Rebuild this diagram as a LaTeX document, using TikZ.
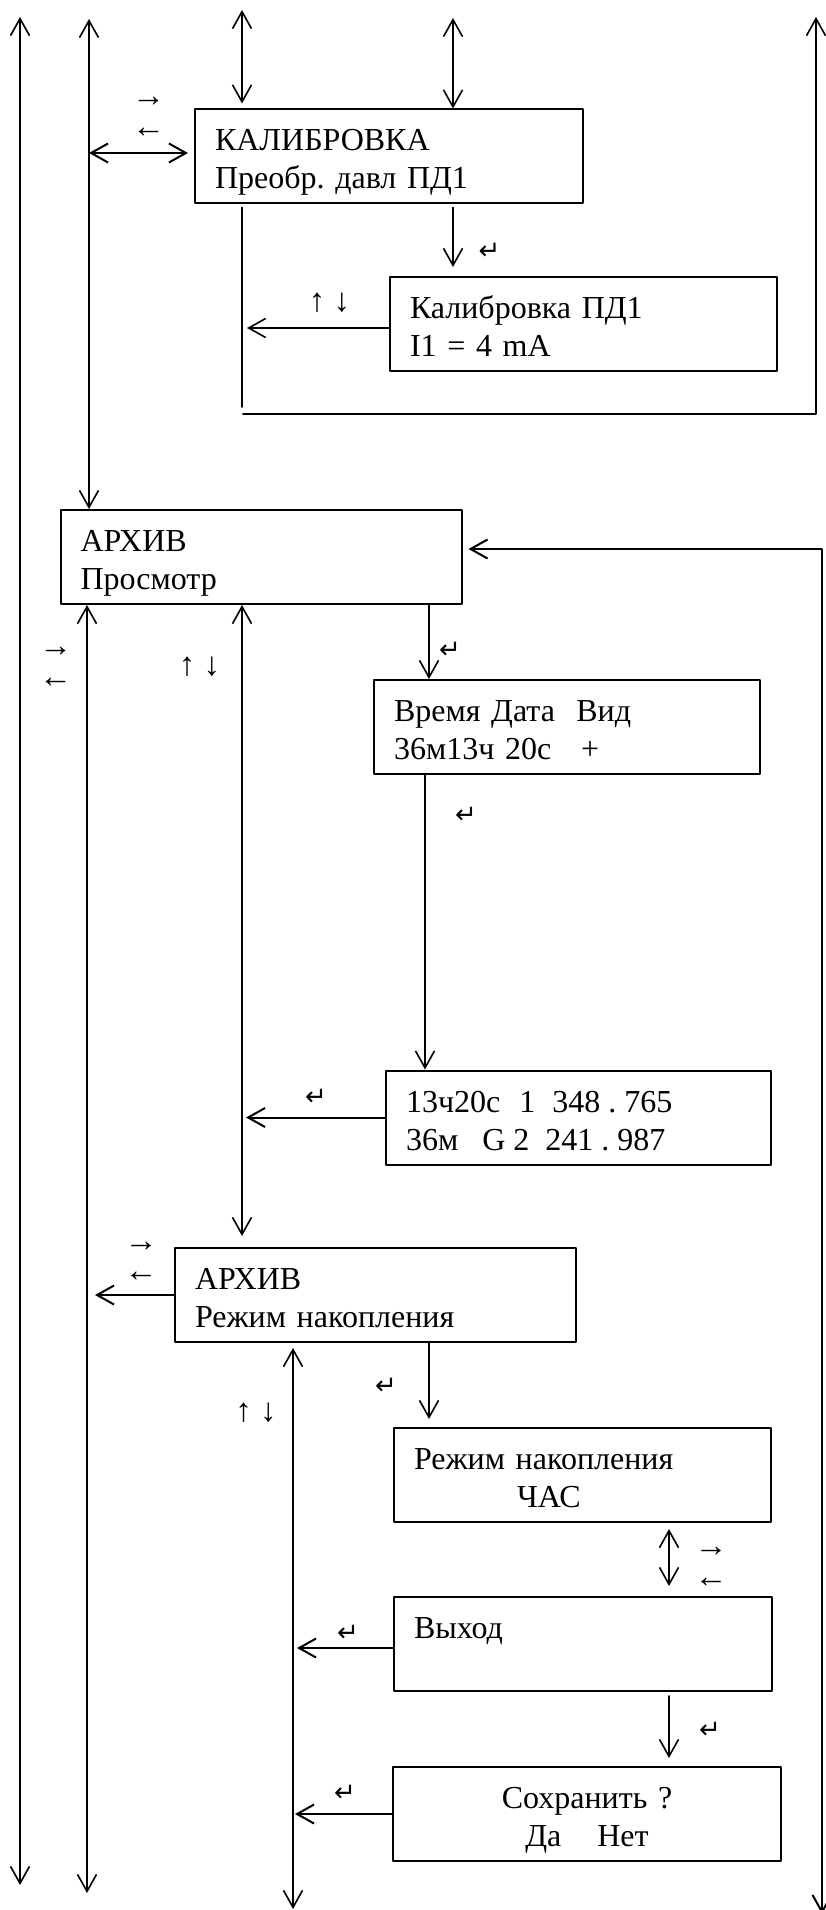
\documentclass[tikz,border=0pt]{standalone}
\usepackage{fontspec}
\setmainfont{Liberation Serif}
\newfontfamily\symfont{DejaVu Sans}
\usetikzlibrary{arrows.meta}
\frenchspacing
\newcommand\scrtext[2]{\rule{0pt}{34pt}#1\\#2\rule[-7pt]{0pt}{7pt}}
\begin{document}
\begin{tikzpicture}[x=1pt,y=-1pt,>={Straight Barb[length=17pt,width=19pt]},
        line width=1.6pt, line join=round, line cap=round,
        screen/.style={draw,line width=2pt,minimum height=94pt,inner xsep=20pt,inner ysep=0pt,
            align=left,font=\fontsize{32}{38}\selectfont},
        key/.style={font=\fontsize{33}{33}\selectfont,inner sep=0pt},
        enter/.style={font=\symfont\fontsize{26}{26}\selectfont,inner sep=0pt}]
    \useasboundingbox (0,0) rectangle (825,1910);
    % screens
    \node[screen,text width=348pt] (kal) at (389,156.5) {\scrtext{КАЛИБРОВКА}{Преобр. давл ПД1}};
    \node[screen,text width=347pt] (kalpd) at (583.5,324) {\scrtext{Калибровка ПД1}{I1 = 4 mA}};
    \node[screen,text width=361pt] (arch) at (261,557) {\scrtext{АРХИВ}{Просмотр}};
    \node[screen,text width=346pt] (vremya) at (567,727) {\scrtext{Время Дата\ \ Вид}{36м13ч 20с\hspace{30pt}+}};
    \node[screen,text width=345pt] (zapis) at (578.5,1117.5) {\scrtext{13ч20с\hspace{19pt}1\hspace{17pt}348\hspace{8pt}.\hspace{8pt}765}{36м\hspace{24pt}G\hspace{8pt}2\hspace{16pt}241\hspace{8pt}.\hspace{8pt}987}};
    \node[screen,text width=361pt] (archrez) at (375.5,1295) {\scrtext{АРХИВ}{Режим накопления}};
    \node[screen,text width=337pt] (rezhim) at (582.5,1475) {\scrtext{Режим накопления}{\hspace*{103pt}ЧАС}};
    \node[screen,text width=338pt] (vyhod) at (583,1644) {\scrtext{Выход}{}};
    \node[screen,text width=348pt,align=center] (sohr) at (587,1814) {\scrtext{Сохранить ?}{Да\hspace{36pt}Нет}};
    % trunk ends
    \coordinate (aT) at (20,17);
    \coordinate (aB) at (20,1885);
    \coordinate (bT) at (89,19);
    \coordinate (bB) at (87,1893);
    \coordinate (kT) at (242,10);
    \coordinate (pT) at (453,18);
    \coordinate (lC) at (242,407);
    \coordinate (hC) at (243,414);
    \coordinate (rC) at (816,414);
    \coordinate (rT) at (816,17);
    \coordinate (sA) at (822,549);
    \coordinate (sB) at (822,1914);
    \coordinate (vx) at (429,0);
    \coordinate (dB) at (293,1909);
    \coordinate (mx) at (669,0);
    \coordinate (kw) at ([yshift=3.5pt]kal.west);
    % trunks
    \draw[<->] (aT) -- (aB);
    \draw[<->] (bT) -- (bT |- arch.north);
    \draw[<->] (arch.south -| bB) -- (bB);
    \draw[<->,line width=2pt] (sB) -- (sA) -- ([xshift=6pt]arch.east |- sA);
    \draw[<->] (arch.south -| kT) -- ([yshift=11pt]archrez.north -| kT);
    \draw[<->] ([yshift=-5pt]archrez.south -| dB) -- (dB);
    % calibration
    \draw[<->,line width=2pt] (bT |- kw) -- ([xshift=-6pt]kw);
    \draw[<->] (kT) -- ([yshift=5pt]kal.north -| kT);
    \draw[<->] (pT) -- (kal.north -| pT);
    \draw (kal.south -| kT) ++(0,3) -- (lC);
    \draw[->] (hC) -- (rC) -- (rT);
    \draw[->] (kal.south -| pT) ++(0,3) -- ([yshift=9pt]kalpd.north -| pT);
    \draw[->] ([yshift=-4pt]kalpd.west) -- ([xshift=5pt,yshift=-4pt]kT |- kalpd.west);
    % archive
    \draw[->] (arch.south -| vx) -- (vremya.north -| vx);
    \draw[->] ([xshift=52pt]vremya.south west) -- ([xshift=52pt]vremya.south west |- zapis.north);
    \draw[->,line width=2pt] (zapis.west) -- ([xshift=4pt]kT |- zapis.west);
    \draw[->,line width=2pt] (archrez.west) -- ([xshift=8pt]bB |- archrez.west);
    \draw[->] (archrez.south -| vx) -- ([yshift=8pt]rezhim.north -| vx);
    \draw[<->] ([yshift=-6pt]rezhim.south -| mx) -- ([yshift=10pt]vyhod.north -| mx);
    \draw[->,line width=2pt] ([yshift=-4pt]vyhod.west) coordinate (v1) -- ([xshift=4pt]dB |- v1);
    \draw[->] ([yshift=-4pt]vyhod.south -| mx) -- ([yshift=8pt]sohr.north -| mx);
    \draw[->,line width=2pt] (sohr.west) -- ([xshift=2pt]dB |- sohr.west);
    % keys
    \node[key] at (148.5,102) {→};
    \node[key] at (148.5,133) {←};
    \node[key] at (55.5,652) {→};
    \node[key] at (55.5,683) {←};
    \node[key] at (141,1247) {→};
    \node[key] at (141,1277) {←};
    \node[key] at (711,1552) {→};
    \node[key] at (711,1583) {←};
    \node[key] at (329.5,303) {↑ ↓};
    \node[key] at (199.5,667) {↑ ↓};
    \node[key] at (256,1413) {↑ ↓};
    \foreach \p in {(489.5,251),(450,650),(466,815),(316,1097),(386,1386),(348,1633),(710,1730),(345,1793)}
        \node[enter] at \p {↵};
\end{tikzpicture}
\end{document}
